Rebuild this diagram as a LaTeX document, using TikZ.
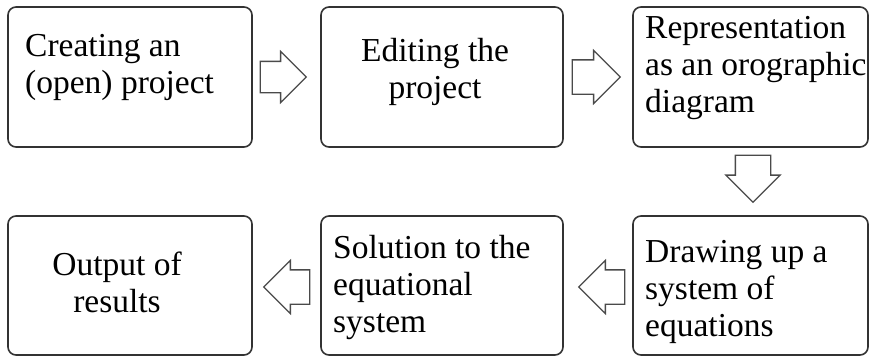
\documentclass[tikz,border=0pt]{standalone}
\usepackage{fontspec}
\setmainfont{Liberation Serif}
\usetikzlibrary{shapes.arrows,calc}
\definecolor{boxline}{HTML}{333333}
\definecolor{arrline}{HTML}{4A4A4A}
\begin{document}
\begin{tikzpicture}[x=1pt,y=-1pt,
  stepbox/.style={draw=boxline,line width=1.6pt,rounded corners=8pt,inner sep=0pt},
  boxtext/.style={inner sep=0pt,font=\fontsize{33.5}{37}\selectfont,text=black},
  blockarrow/.style={draw=arrline,line width=1.3pt,single arrow,inner xsep=0pt,inner ysep=16pt,
    single arrow head extend=10pt,single arrow head indent=0pt,
    minimum height=46pt,fill=white,anchor=tip}]
\useasboundingbox (0,0) rectangle (870,356);
\fill[white] (0,0) rectangle (870,356);
% boxes
\node[stepbox,minimum width=244pt,minimum height=140pt] (b1) at (130,77) {};
\node[stepbox,minimum width=242pt,minimum height=140pt] (b2) at (442,77) {};
\node[stepbox,minimum width=235pt,minimum height=140pt] (b3) at (750.5,77) {};
\node[stepbox,minimum width=244pt,minimum height=139pt] (b4) at (130,285.5) {};
\node[stepbox,minimum width=242pt,minimum height=139pt] (b5) at (442,285.5) {};
\node[stepbox,minimum width=235pt,minimum height=139pt] (b6) at (750.5,285.5) {};
% texts (anchored at the baseline of their last line)
\node[boxtext,anchor=base west,align=left] (t1) at (25,93) {Creating an\\(open) project};
\node[boxtext,anchor=base,align=center] (t2) at (435,98) {Editing the\\project};
\node[boxtext,anchor=base west,align=left] (t3) at (645,112) {Representation\\as an orographic\\diagram};
\node[boxtext,anchor=base,align=center] (t4) at (117,312) {Output of\\results};
\node[boxtext,anchor=base west,align=left] (t5) at (333,332) {Solution to the\\equational\\system};
\node[boxtext,anchor=base west,align=left] (t6) at (645,336) {Drawing up a\\system of\\equations};
% block arrows (placed by their tips)
\node[blockarrow,inner ysep=15pt] (a1) at ($(b2.west)+(-13,0)$) {};
\node[blockarrow,minimum height=48pt,inner ysep=16.5pt,single arrow head extend=9.5pt] (a2) at ($(b3.west)+(-11,0)$) {};
\node[blockarrow,shape border rotate=270,minimum height=47pt,inner xsep=17pt,inner ysep=0pt,single arrow head extend=9.5pt] (a3) at ($(b6.north)+(2.5,-12)$) {};
\node[blockarrow,shape border rotate=180,inner ysep=16.5pt,single arrow head extend=9.5pt] (a4) at ($(b5.east)+(14,1.5)$) {};
\node[blockarrow,shape border rotate=180,inner ysep=16.5pt,single arrow head extend=9.5pt] (a5) at ($(b4.east)+(10,1.5)$) {};
\end{tikzpicture}
\end{document}
